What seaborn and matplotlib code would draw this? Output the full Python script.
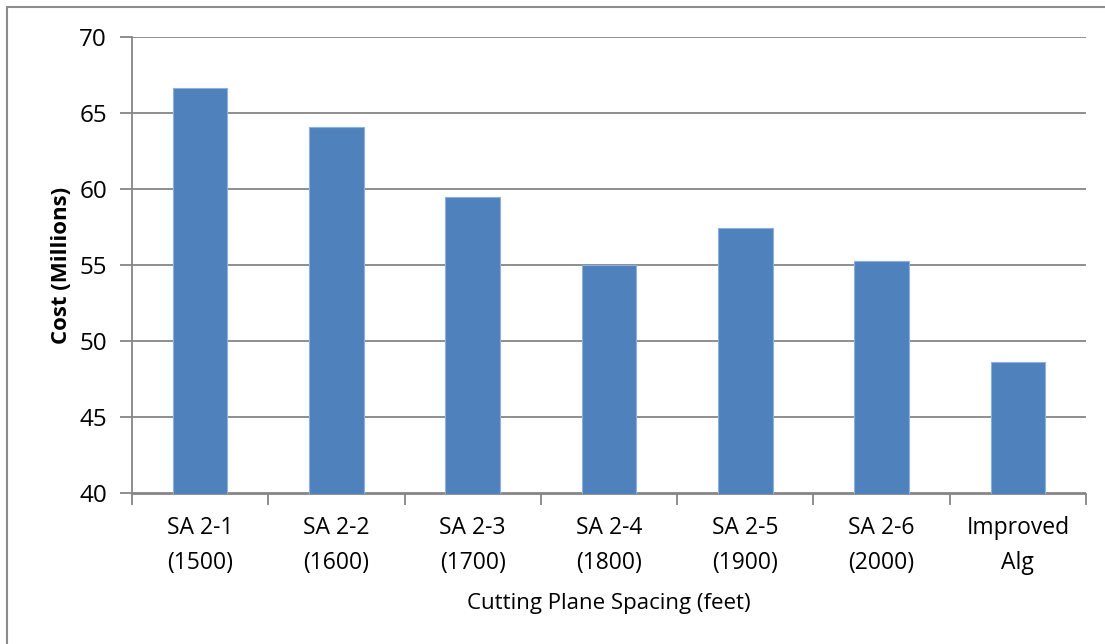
import matplotlib
matplotlib.use("Agg")
import matplotlib.pyplot as plt
from matplotlib.patches import Rectangle
import seaborn as sns
import pandas as pd

# Cost per cutting-plane spacing scenario
categories = ["SA 2-1\n(1500)", "SA 2-2\n(1600)", "SA 2-3\n(1700)", "SA 2-4\n(1800)",
              "SA 2-5\n(1900)", "SA 2-6\n(2000)", "Improved\nAlg"]
cost_millions = [66.65, 64.1, 59.5, 55.0, 57.45, 55.25, 48.66]
y_ticks = [40, 45, 50, 55, 60, 65, 70]

df = pd.DataFrame({"scenario": categories, "cost": cost_millions})

sns.set_theme(style="white")
plt.rcParams["font.family"] = ["Open Sans", "DejaVu Sans"]

W, H = 1105, 644
fig = plt.figure(figsize=(W / 100, H / 100), dpi=100)
ax = fig.add_axes([132 / W, 1 - 493.5 / H, (1086 - 132) / W, (493.5 - 37) / H])

grid_c = "#868686"
sns.barplot(data=df, x="scenario", y="cost", ax=ax, color="#4F81BD", saturation=1,
            width=0.4, edgecolor="#8EB0DC", linewidth=0.8, zorder=3)

ax.set_ylim(40, 70)
ax.set_xlim(-0.5, len(categories) - 0.5)
ax.set_yticks(y_ticks)
ax.set_yticklabels([str(t) for t in y_ticks])
ax.yaxis.grid(True, color=grid_c, linewidth=1.3, zorder=0)
ax.set_axisbelow(True)

for side in ("top", "right"):
    ax.spines[side].set_visible(False)
for side in ("left", "bottom"):
    ax.spines[side].set_color(grid_c)
    ax.spines[side].set_linewidth(1.3)

# category boundaries as x tick marks, labels centered under bars
ax.set_xticks([i + 0.5 for i in range(-1, len(categories))], minor=True)
ax.tick_params(axis="x", which="minor", length=8, width=1.3, color=grid_c, direction="out")
ax.tick_params(axis="x", which="major", length=0, pad=16, labelsize=16.5, labelcolor="black")
for lbl in ax.get_xticklabels():
    lbl.set_linespacing(1.65)
ax.tick_params(axis="y", length=9, width=1.3, color=grid_c, direction="out", pad=9,
               labelsize=17.5, labelcolor="black")
ax.tick_params(axis="x", which="minor", bottom=True)
ax.tick_params(axis="y", left=True)

ax.set_xlabel("Cutting Plane Spacing (feet)", fontsize=16, color="black", labelpad=13)
ax.set_ylabel("Cost (Millions)", fontsize=16, fontweight="bold", color="black", labelpad=5)

# chart area frame
fig.patches.append(Rectangle((7 / W, -0.1), 1.2, 1 - 7 / H + 0.1, transform=fig.transFigure,
                             fill=False, edgecolor="#8C8C8C", linewidth=1.5))

fig.savefig("out.png", dpi=100, facecolor="white")
